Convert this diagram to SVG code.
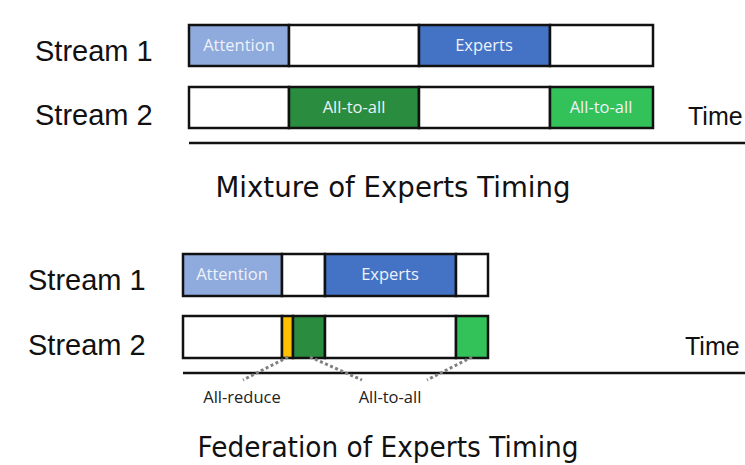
<svg xmlns="http://www.w3.org/2000/svg" width="745" height="465" viewBox="0 0 745 465">
  <style>
    .lbl { font-family: "Liberation Sans", Arial, sans-serif; fill: #111; }
    .stream { font-size: 29px; }
    .time { font-size: 25px; }
    .title { font-size: 27.8px; font-family: "DejaVu Sans", "Liberation Sans", sans-serif; fill: #111; text-anchor: middle; }
    .cell { stroke: #111; stroke-width: 2.5; }
    .in { font-family: "Open Sans", "Liberation Sans", sans-serif; font-size: 16.5px; fill: #eef2fa; text-anchor: middle; }
    .axis { stroke: #111; stroke-width: 2.5; }
    .dot { stroke: #808080; stroke-width: 3; stroke-dasharray: 3 2.5; fill: none; }
    .small { font-family: "Open Sans", "Liberation Sans", sans-serif; font-size: 16.5px; fill: #222; text-anchor: middle; }
  </style>

  <!-- Mixture of Experts -->
  <g id="moe-labels">
    <text class="lbl stream" x="35" y="61">Stream 1</text>
    <text class="lbl stream" x="35" y="125">Stream 2</text>
    <text class="lbl time" x="688" y="125">Time</text>
  </g>
  <g id="moe-stream1">
    <rect class="cell" x="189" y="25" width="100" height="41" fill="#8faadc"/>
    <rect class="cell" x="289" y="25" width="130" height="41" fill="#ffffff"/>
    <rect class="cell" x="419" y="25" width="131" height="41" fill="#4472c4"/>
    <rect class="cell" x="550" y="25" width="103" height="41" fill="#ffffff"/>
    <text class="in" x="239" y="51">Attention</text>
    <text class="in" x="484" y="51">Experts</text>
  </g>
  <g id="moe-stream2">
    <rect class="cell" x="189" y="87" width="100" height="41" fill="#ffffff"/>
    <rect class="cell" x="289" y="87" width="130" height="41" fill="#2a8c3e"/>
    <rect class="cell" x="419" y="87" width="131" height="41" fill="#ffffff"/>
    <rect class="cell" x="550" y="87" width="103" height="41" fill="#33c15a"/>
    <text class="in" x="354" y="113">All-to-all</text>
    <text class="in" x="601" y="113">All-to-all</text>
  </g>
  <g id="moe-axis">
    <line class="axis" x1="189" y1="143" x2="745" y2="143"/>
  </g>
  <text class="title" x="393" y="197" textLength="355" lengthAdjust="spacingAndGlyphs">Mixture of Experts Timing</text>

  <!-- Federation of Experts -->
  <g id="foe-labels">
    <text class="lbl stream" x="28" y="290">Stream 1</text>
    <text class="lbl stream" x="28" y="355">Stream 2</text>
    <text class="lbl time" x="685" y="355">Time</text>
  </g>
  <g id="foe-stream1">
    <rect class="cell" x="183" y="254" width="99" height="42" fill="#8faadc"/>
    <rect class="cell" x="282" y="254" width="43" height="42" fill="#ffffff"/>
    <rect class="cell" x="325" y="254" width="131" height="42" fill="#4472c4"/>
    <rect class="cell" x="456" y="254" width="32" height="42" fill="#ffffff"/>
    <text class="in" x="232" y="280">Attention</text>
    <text class="in" x="390" y="280">Experts</text>
  </g>
  <g id="foe-stream2">
    <rect class="cell" x="183" y="316" width="99" height="42" fill="#ffffff"/>
    <rect class="cell" x="282" y="316" width="11" height="42" fill="#ffc000"/>
    <rect class="cell" x="293" y="316" width="32" height="42" fill="#2a8c3e"/>
    <rect class="cell" x="325" y="316" width="131" height="42" fill="#ffffff"/>
    <rect class="cell" x="456" y="316" width="32" height="42" fill="#33c15a"/>
  </g>
  <g id="foe-axis">
    <line class="axis" x1="183" y1="373" x2="745" y2="373"/>
  </g>
  <g id="connectors">
    <line class="dot" x1="288" y1="357" x2="243" y2="380"/>
    <line class="dot" x1="310" y1="357" x2="362" y2="380"/>
    <line class="dot" x1="472" y1="357" x2="427" y2="380"/>
  </g>
  <g id="foe-notes">
    <text class="small" x="242" y="403">All-reduce</text>
    <text class="small" x="390" y="403">All-to-all</text>
  </g>
  <text class="title" x="388" y="457" textLength="381" lengthAdjust="spacingAndGlyphs">Federation of Experts Timing</text>
</svg>
